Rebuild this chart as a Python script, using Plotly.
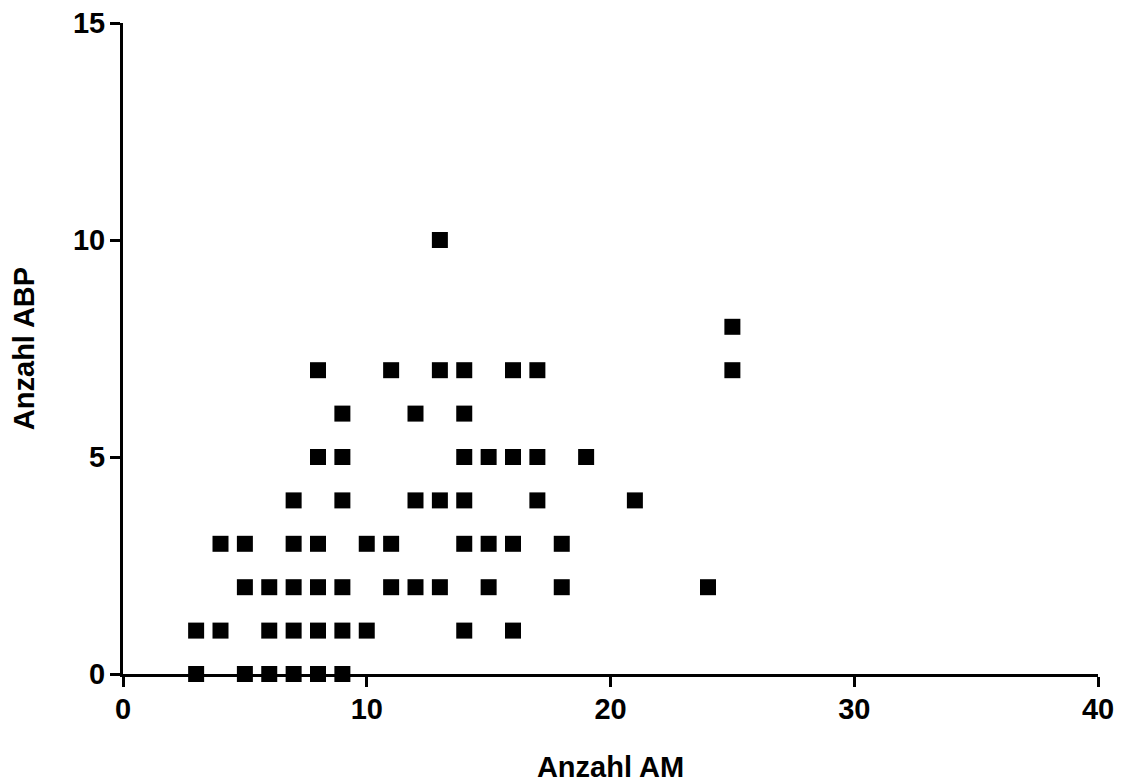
import plotly.graph_objects as go

anzahl_am = [3, 3, 4, 4, 5, 5, 5, 6, 6, 6, 7, 7, 7, 7, 7, 8, 8, 8, 8, 8, 8,
             9, 9, 9, 9, 9, 9, 10, 10, 11, 11, 11, 12, 12, 12, 13, 13, 13, 13,
             14, 14, 14, 14, 14, 14, 15, 15, 15, 16, 16, 16, 16, 17, 17, 17,
             18, 18, 19, 21, 24, 25, 25]
anzahl_abp = [0, 1, 1, 3, 3, 2, 0, 2, 1, 0, 4, 3, 2, 1, 0, 7, 5, 3, 2, 1, 0,
              6, 5, 4, 2, 1, 0, 3, 1, 7, 3, 2, 6, 4, 2, 10, 7, 4, 2,
              7, 6, 5, 4, 3, 1, 5, 3, 2, 7, 5, 3, 1, 7, 5, 4,
              3, 2, 5, 4, 2, 8, 7]

x_ticks = [0, 10, 20, 30, 40]
y_ticks = [0, 5, 10, 15]

fig = go.Figure(go.Scatter(
    x=anzahl_am, y=anzahl_abp, mode="markers",
    marker=dict(symbol="square", size=16, color="black", line=dict(width=0)),
    cliponaxis=False,
))

font_bold = dict(family="Liberation Sans, Arial", size=29, color="black", weight="bold")

fig.update_layout(
    width=1121, height=783,
    margin=dict(l=123, r=23, t=23, b=109, autoexpand=False),
    plot_bgcolor="white", paper_bgcolor="white",
    showlegend=False,
    font=font_bold,
)
fig.update_xaxes(
    range=[0, 40], tickvals=x_ticks, ticks="outside", ticklen=10, tickwidth=3,
    tickcolor="black", showline=True, linewidth=3, linecolor="black",
    showgrid=False, zeroline=False, tickfont=font_bold, automargin=False,
    ticklabelstandoff=-3,
    title=dict(text="Anzahl AM", font=font_bold, standoff=36),
)
fig.update_yaxes(
    range=[0, 15], tickvals=y_ticks, ticks="outside", ticklen=10, tickwidth=3,
    tickcolor="black", showline=True, linewidth=3, linecolor="black",
    showgrid=False, zeroline=False, tickfont=font_bold, automargin=False,
    ticklabelstandoff=-1,
    title=dict(text="Anzahl ABP", font=font_bold, standoff=30),
)

fig.write_html("out.html", config={"displayModeBar": False},
               post_script="document.body.style.margin='0px';")
